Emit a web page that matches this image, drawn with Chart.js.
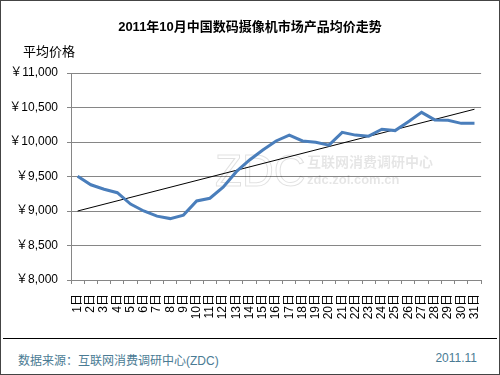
<!DOCTYPE html>
<html>
<head>
<meta charset="utf-8">
<script src="https://cdn.jsdelivr.net/npm/chart.js@4"></script>
<style>
    body { margin: 0; background: #fff; font-family: "Liberation Sans", Arial, "Noto Sans CJK SC", sans-serif; }
    .frame { position: relative; width: 498px; height: 373px; border: 1px solid #444; overflow: hidden; }
    .chart-box { position: absolute; left: 0; top: 0; width: 498px; height: 335px; }
    .title { position: absolute; left: 0; width: 498px; top: 15px; text-align: center; font-weight: bold; font-size: 13px; color: #000; }
    .y-title { position: absolute; left: 22px; top: 40px; font-size: 13px; color: #000; }
    .footer-line { position: absolute; left: 2px; right: 2px; top: 337px; border-top: 1px solid #000; }
    .source { position: absolute; left: 17px; top: 350px; font-size: 12px; color: #4a7b94; }
    .date { position: absolute; right: 22px; top: 350px; font-size: 12px; color: #4a7b94; }
</style>
</head>
<body>
<div class="frame">
    <div class="chart-box"><canvas id="priceChart"></canvas></div>
    <div class="title">2011年10月中国数码摄像机市场产品均价走势</div>
    <div class="y-title">平均价格</div>
    <div class="footer-line"></div>
    <div class="source">数据来源：互联网消费调研中心(ZDC)</div>
    <div class="date">2011.11</div>
</div>
<script>
const days = ['1日', '2日', '3日', '4日', '5日', '6日', '7日', '8日', '9日', '10日',
    '11日', '12日', '13日', '14日', '15日', '16日', '17日', '18日', '19日', '20日',
    '21日', '22日', '23日', '24日', '25日', '26日', '27日', '28日', '29日', '30日', '31日'];

const avgPrice = [9505, 9380, 9315, 9265, 9100, 9000, 8925, 8890, 8940, 9145,
    9185, 9345, 9570, 9740, 9885, 10015, 10100, 10015, 9995, 9955,
    10140, 10100, 10085, 10185, 10165, 10295, 10430, 10320, 10315, 10270, 10270];

// linear trend: only start and end are known
const trendStart = 9000;
const trendEnd = 10475;
const trendLine = days.map((d, i) => i === 0 ? trendStart : (i === days.length - 1 ? trendEnd : null));

const yTicks = [8000, 8500, 9000, 9500, 10000, 10500, 11000];

const watermark = {
    id: 'watermark',
    beforeDatasetsDraw(chart) {
        const c = chart.ctx;
        c.save();
        c.strokeStyle = 'rgba(0,0,0,0.12)';
        c.fillStyle = 'rgba(0,0,0,0.10)';
        c.lineWidth = 1;
        c.font = '44px "Liberation Sans", Arial';
        c.textBaseline = 'alphabetic';
        c.strokeText('ZDC', 214, 185);
        c.font = 'bold 14px "Noto Sans CJK SC"';
        c.fillText('互联网消费调研中心', 306, 166);
        c.font = 'bold 13px "Liberation Sans", Arial';
        c.fillText('zdc.zol.com.cn', 306, 183);
        c.restore();
    }
};

const ctx = document.getElementById('priceChart');

new Chart(ctx, {
    type: 'line',
    data: {
        labels: days,
        datasets: [{
            label: '平均价格',
            data: avgPrice,
            borderColor: '#4a7ebb',
            borderWidth: 3,
            pointRadius: 0,
            tension: 0,
            fill: false
        }, {
            label: '趋势',
            data: trendLine,
            borderColor: '#000',
            borderWidth: 1,
            pointRadius: 0,
            spanGaps: true,
            fill: false
        }]
    },
    options: {
        responsive: true,
        maintainAspectRatio: false,
        animation: false,
        layout: {
            padding: { top: 72, right: 7, left: 0, bottom: 0 }
        },
        plugins: {
            legend: { display: false },
            tooltip: { enabled: false }
        },
        scales: {
            y: {
                min: 8000,
                max: 11000,
                afterBuildTicks: (scale) => {
                    scale.ticks = yTicks.map(v => ({ value: v }));
                },
                afterFit: (scale) => { scale.width = 70; },
                grid: {
                    color: '#868686',
                    tickLength: 4
                },
                border: { color: '#868686' },
                ticks: {
                    padding: 9,
                    color: '#000',
                    font: { family: '"Liberation Sans", Arial, "Noto Sans CJK SC"', size: 12 },
                    callback: (v) => '￥' + v.toLocaleString('en-US')
                }
            },
            x: {
                offset: true,
                afterFit: (scale) => { scale.height = 56; },
                grid: {
                    drawOnChartArea: false,
                    offset: true,
                    color: '#868686',
                    tickLength: 4
                },
                border: { color: '#868686' },
                ticks: {
                    autoSkip: false,
                    maxRotation: 90,
                    minRotation: 90,
                    padding: 10,
                    color: '#000',
                    font: { family: '"Liberation Sans", Arial, "Noto Sans CJK SC"', size: 12 }
                }
            }
        }
    },
    plugins: [watermark]
});
</script>
</body>
</html>
